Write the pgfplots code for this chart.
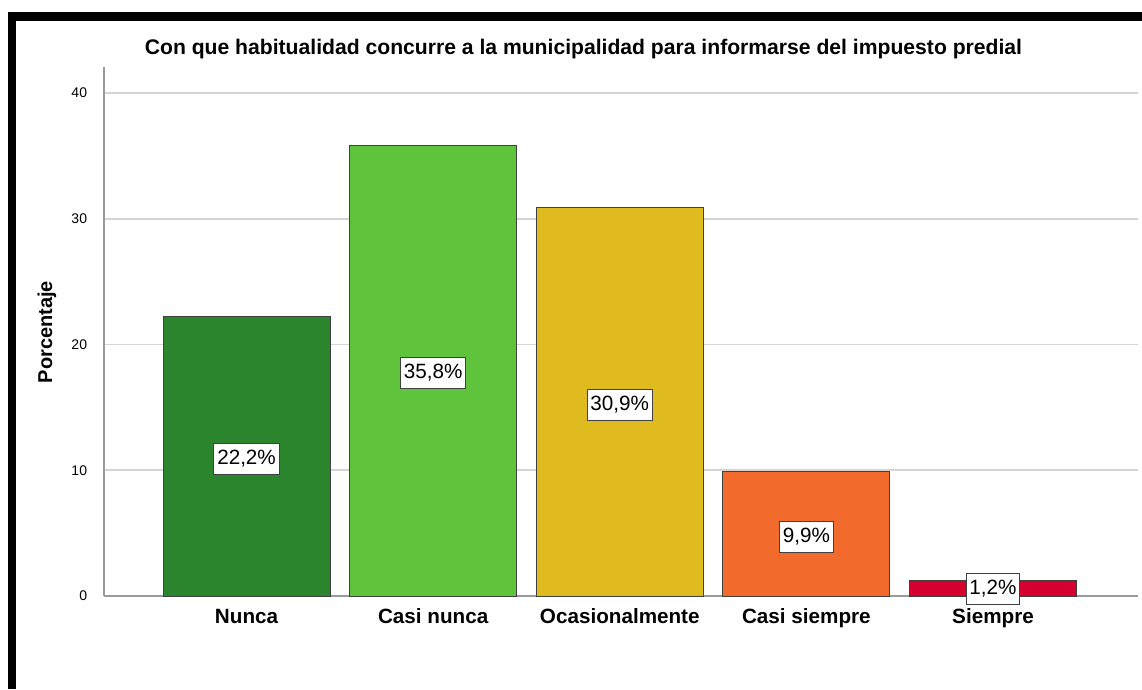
\documentclass[border=0pt]{standalone}
\usepackage{pgfplots}
\pgfplotsset{compat=1.18}
\usepackage{fontspec}
\setmainfont{Liberation Sans}

\definecolor{cNunca}{HTML}{2A852C}
\definecolor{cCasiN}{HTML}{5FC43B}
\definecolor{cOcas}{HTML}{E0BB1F}
\definecolor{cCasiS}{HTML}{F26A2C}
\definecolor{cSiem}{HTML}{D6002F}
\definecolor{gridc}{HTML}{D4D4D4}
\definecolor{axisc}{HTML}{9A9A9A}

\begin{document}
\begin{tikzpicture}
% page frame (1px = 0.75pt)
\fill[white] (0,0) rectangle (856.5pt,-516.75pt);
\fill[black] (5.8pt,-9pt) rectangle (856.5pt,-15.5pt);
\fill[black] (5.8pt,-9pt) rectangle (12pt,-516.75pt);

\node[font=\fontsize{15.85}{18}\selectfont\bfseries] at (437.6pt,-36.8pt)
  {Con que habitualidad concurre a la municipalidad para informarse del impuesto predial};

\begin{axis}[
  at={(78pt,-447pt)}, anchor=south west,
  scale only axis, width=775.5pt, height=396.75pt,
  xmin=-0.764, xmax=4.777, ymin=0, ymax=42.07,
  axis x line=bottom, axis y line=left,
  axis line style={-, draw=axisc, line width=1.5pt},
  xtick={0,1,2,3,4},
  xticklabels={Nunca, Casi nunca, Ocasionalmente, Casi siempre, Siempre},
  ytick={0,10,20,30,40},
  major tick length=0pt,
  ymajorgrids, grid style={gridc, line width=1.2pt},
  /pgf/number format/assume math mode=true,
  xticklabel style={font=\fontsize{15.5}{18}\selectfont\bfseries, inner sep=0pt,
    text height=11pt, text depth=3pt, anchor=north, yshift=-9.5pt},
  yticklabel style={font=\fontsize{10.5}{12}\selectfont, inner sep=0pt,
    anchor=east, xshift=-12.5pt},
  ylabel={Porcentaje},
  ylabel style={font=\fontsize{15}{18}\selectfont\bfseries,
    at={(axis description cs:-0.0551,0.499)}, anchor=center},
  clip=false,
]
\addplot[ybar, bar width=0.895, bar shift=0, fill=cNunca, draw=black!75, line width=0.75pt] coordinates {(0,22.2)};
\addplot[ybar, bar width=0.895, bar shift=0, fill=cCasiN, draw=black!75, line width=0.75pt] coordinates {(1,35.8)};
\addplot[ybar, bar width=0.895, bar shift=0, fill=cOcas, draw=black!75, line width=0.75pt] coordinates {(2,30.9)};
\addplot[ybar, bar width=0.895, bar shift=0, fill=cCasiS, draw=black!75, line width=0.75pt] coordinates {(3,9.9)};
\addplot[ybar, bar width=0.895, bar shift=0, fill=cSiem, draw=black!75, line width=0.75pt] coordinates {(4,1.2)};
% value labels
\addplot[only marks, mark=*, mark size=0pt, mark options={draw=none, fill=none},
  nodes near coords, point meta=explicit symbolic,
  nodes near coords style={anchor=center, fill=white, draw=black!75, line width=0.75pt,
    font=\fontsize{15.5}{18}\selectfont, inner xsep=2.5pt, inner ysep=4.5pt,
    text height=11.3pt, text depth=3pt}]
  table[meta=lab] {
x y lab
0 10.86 22,2\%
1 17.70 35,8\%
2 15.20 30,9\%
3 4.70 9,9\%
4 0.56 1,2\%
};
\end{axis}
\end{tikzpicture}
\end{document}
